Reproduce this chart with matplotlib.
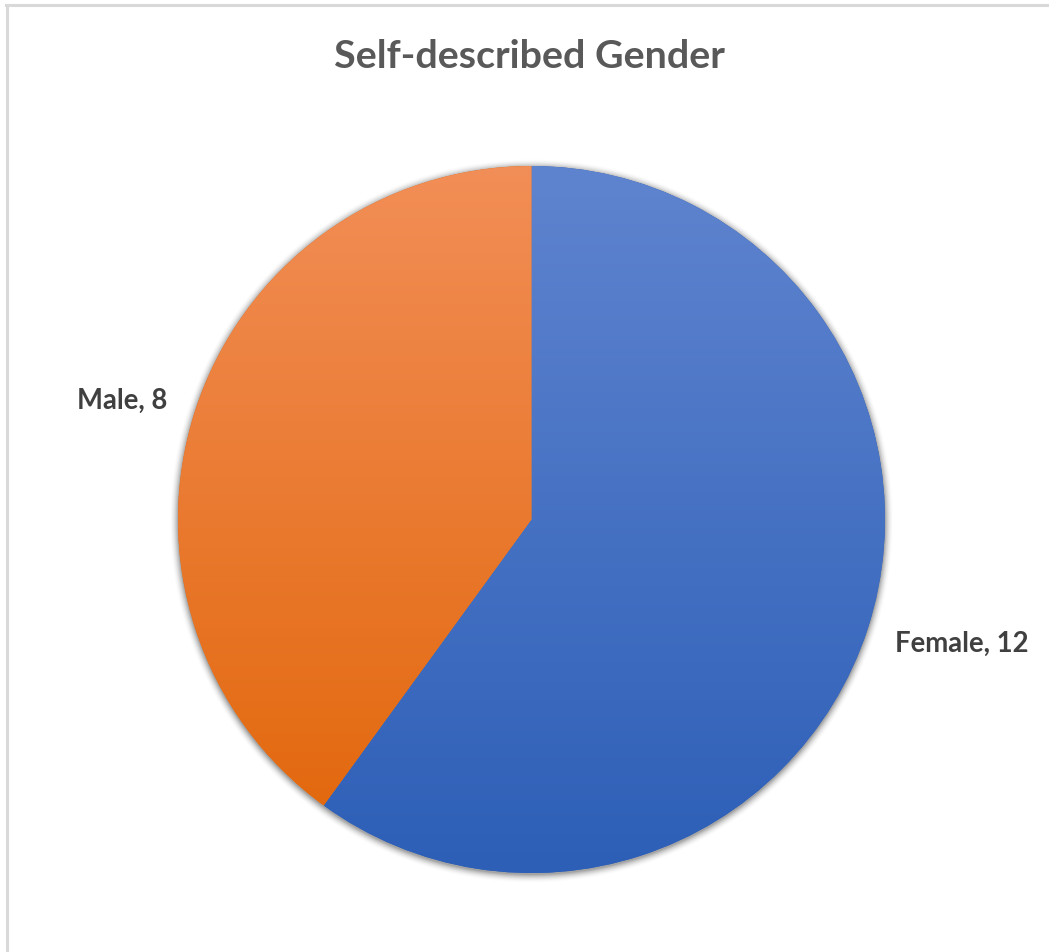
import numpy as np
import matplotlib.pyplot as plt
import matplotlib.colors as mcolors

# survey counts
labels = ["Female", "Male"]
counts = [12, 8]
tops = ["#5f84cf", "#f28e57"]
bottoms = ["#2d5fb7", "#e3690f"]

W, H = 1049, 953
cx, cy, R = 531.5, 953 - 520.5, 353.5

fig = plt.figure(figsize=(W / 100, H / 100), dpi=100)
ax = fig.add_axes([0, 0, 1, 1])

wedges, _ = ax.pie(counts, center=(cx, cy), radius=R, startangle=90,
                   counterclock=False, colors=bottoms,
                   wedgeprops=dict(linewidth=0))

# vertical gradient fill clipped to each slice
for w, c0, c1 in zip(wedges, tops, bottoms):
    bb = w.get_path().get_extents()
    a = np.array(mcolors.to_rgb(c0))
    b = np.array(mcolors.to_rgb(c1))
    t = np.linspace(0, 1, 256)[:, None]
    grad = (a * (1 - t) + b * t)[:, None, :]
    im = ax.imshow(grad, extent=(bb.x0, bb.x1, bb.y0, bb.y1), origin="upper",
                   aspect="auto", interpolation="bilinear", zorder=3)
    im.set_clip_path(w)

# soft shadow under the pie
yy, xx = np.mgrid[0:H, 0:W] + 0.5
d = np.hypot(xx - cx, yy - (H - cy) - 1.5) - R
alpha = np.clip(1 - d / 9, 0, 1) ** 2 * 0.55
shadow = np.zeros((H, W, 4))
shadow[..., :3] = 0.35
shadow[..., 3] = alpha
ax.imshow(shadow, extent=(0, W, 0, H), origin="upper", zorder=0.5)

for w in wedges:
    w.set_zorder(1)

ax.set_xlim(0, W)
ax.set_ylim(0, H)
ax.set_aspect("auto")
ax.axis("off")

# frame lines along the top and left
ax.plot([7, 7], [0, H - 6], color="#d9d9d9", lw=2.2, zorder=5)
ax.plot([6, W], [H - 6, H - 6], color="#d9d9d9", lw=2.2, zorder=5)

ax.text(529, H - 57, "Self-described Gender", ha="center", va="center",
        fontsize=28.4, fontweight="bold", color="#595959", family="Lato")

label_pos = [(122, H - 401), (962, H - 644)]
for name, n, (x, y) in zip(labels[::-1], counts[::-1], label_pos):
    ax.text(x, y, f"{name}, {n}", ha="center", va="center", fontsize=19.8,
            fontweight="bold", color="#404040", family="Lato")

fig.savefig("out.png", dpi=100)
